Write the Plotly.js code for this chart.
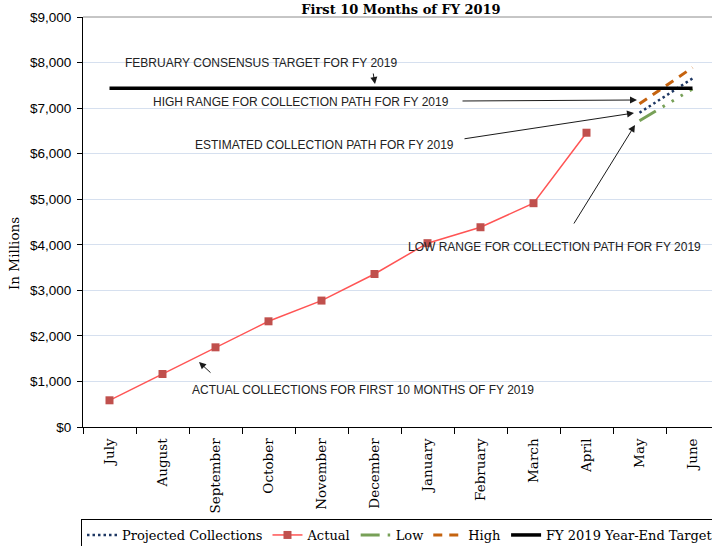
<!DOCTYPE html>
<html><head><meta charset="utf-8">
<script src="https://cdn.plot.ly/plotly-3.0.1.min.js"></script>
<style>html,body{margin:0;padding:0;overflow:hidden;background:#fff}</style>
</head><body><div id="chart"></div>
<script>
// ---- data ----
const months = ["July","August","September","October","November","December","January","February","March","April","May","June"];
const actualMonths = ["July","August","September","October","November","December","January","February","March","April"];
const actualValues = [586, 1163, 1749, 2320, 2775, 3358, 4035, 4385, 4913, 6460];
const rangeMonths = ["May","June"];
const projectedValues = [6898, 7650];
const lowValues = [6723, 7420];
const highValues = [7095, 7890];
const targetMonths = ["July","June"];
const targetValues = [7435, 7435];
const yTicks = [0,1000,2000,3000,4000,5000,6000,7000,8000,9000];
const yTickLabels = ["$0","$1,000","$2,000","$3,000","$4,000","$5,000","$6,000","$7,000","$8,000","$9,000"];

// ---- layout helpers (pixel -> paper) ----
const L = 83, T = 17, PW = 636, PH = 410, W = 719, H = 562;
const px = x => (x - L) / PW;
const py = y => (T + PH - y) / PH;

const serif = "DejaVu Serif";
const sans = "Liberation Sans";

const traces = [
  {name: "Projected Collections", x: rangeMonths, y: projectedValues, type: "scatter", mode: "lines",
   line: {color: "#1f3864", width: 2.5, dash: "2.5px,3px"}},
  {name: "Actual", x: actualMonths, y: actualValues, type: "scatter", mode: "lines+markers",
   line: {color: "#ff5454", width: 1.5}, marker: {symbol: "square", size: 8, color: "#c0504d"}},
  {name: "Low", x: rangeMonths, y: lowValues, type: "scatter", mode: "lines",
   line: {color: "#77a057", width: 3, dash: "19px,8px,2.5px,8px,2.5px,8px,2.5px,8px"}},
  {name: "High", x: rangeMonths, y: highValues, type: "scatter", mode: "lines",
   line: {color: "#c5630f", width: 3, dash: "9px,7px"}},
  {name: "FY 2019 Year-End Target", x: targetMonths, y: targetValues, type: "scatter", mode: "lines",
   line: {color: "#000000", width: 3.5}}
];

const annFont = {family: sans, size: 12, color: "#222"};
function label(text, left, cy) {
  return {text: text, xref: "paper", yref: "paper", x: px(left), y: py(cy),
          xanchor: "left", yanchor: "middle", showarrow: false, font: annFont};
}
function arrow(hx, hy, tx, ty, color) {
  return {text: "", xref: "paper", yref: "paper", x: px(hx), y: py(hy),
          ax: tx - hx, ay: ty - hy, showarrow: true, arrowhead: 2, arrowsize: 1.4,
          arrowwidth: 1, arrowcolor: color || "#1a1a1a", standoff: 0, startstandoff: 0};
}

const annotations = [
  label("FEBRUARY CONSENSUS TARGET FOR FY 2019", 123, 63),
  label("HIGH RANGE FOR COLLECTION PATH FOR FY 2019", 151, 102),
  label("ESTIMATED COLLECTION PATH FOR FY 2019", 193, 145),
  label("LOW RANGE FOR COLLECTION PATH FOR FY 2019", 406, 247),
  label("ACTUAL COLLECTIONS FOR FIRST 10 MONTHS OF FY 2019", 190, 390),
  arrow(375, 84, 373, 72),
  arrow(637, 100, 461, 101),
  arrow(634, 113, 463, 139),
  arrow(635, 125, 573, 225),
  arrow(199, 362, 212, 374),
  {text: "In Millions", xref: "paper", yref: "paper", x: px(14), y: py(254),
   xanchor: "center", yanchor: "middle", textangle: -90, showarrow: false,
   font: {family: serif, size: 13.5, color: "#000"}}
];

const layout = {
  width: W, height: H,
  margin: {l: L, r: W - L - PW, t: T, b: H - T - PH, pad: 0},
  paper_bgcolor: "#fff", plot_bgcolor: "#fff",
  title: {text: "<b>First 10 Months of FY 2019</b>", font: {family: serif, size: 13, color: "#000"},
          x: 0.5, xref: "paper", xanchor: "center", y: 1 - 9 / H, yref: "container", yanchor: "middle"},
  showlegend: true,
  legend: {orientation: "h", x: 0, xanchor: "left", y: py(519), yanchor: "top",
           bordercolor: "#000", borderwidth: 1, bgcolor: "#fff",
           font: {family: serif, size: 13, color: "#000"}, itemwidth: 30, tracegroupgap: 0},
  xaxis: {type: "category", categoryorder: "array", categoryarray: months, range: [-0.5, 11.5],
          tickson: "boundaries", ticks: "outside", ticklen: 6, tickcolor: "#000", tickwidth: 1,
          showline: true, linecolor: "#000", linewidth: 1, showgrid: false, zeroline: false,
          automargin: false, ticklabelstandoff: 5,
          tickangle: -90, tickfont: {family: serif, size: 13.5, color: "#000"}},
  yaxis: {range: [0, 9000], tickmode: "array", tickvals: yTicks, ticktext: yTickLabels,
          ticks: "outside", ticklen: 5, tickcolor: "#000", showline: true, linecolor: "#000", linewidth: 1,
          gridcolor: "#d6e0ef", gridwidth: 1, zeroline: false, automargin: false, ticklabelstandoff: 3,
          tickfont: {family: sans, size: 13.5, color: "#000"}},
  shapes: [{type: "line", xref: "paper", yref: "paper", x0: 0, x1: 1, y0: 1, y1: 1,
            line: {color: "#8c8c8c", width: 1}, layer: "below"}],
  annotations: annotations
};

Plotly.newPlot("chart", traces, layout, {staticPlot: true, displayModeBar: false});
</script>
</body></html>
